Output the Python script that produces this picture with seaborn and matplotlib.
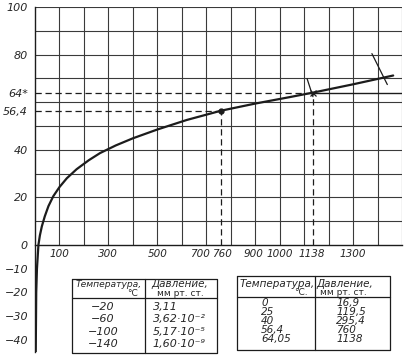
import numpy as np
import matplotlib
matplotlib.use("Agg")
import matplotlib.pyplot as plt
import matplotlib.transforms as mtransforms
import seaborn as sns

# curve: pressure (mm Hg) vs temperature (C)
curve_p = [3, 5, 8, 14, 20, 28, 40, 55, 75, 100, 130, 170, 220, 266, 330, 400, 500, 620, 760, 900, 1040, 1138, 1300, 1464]
curve_t = [-45, -20, -10, 0, 4, 7.8, 12, 16.3, 20.5, 24.3, 28.0, 31.8, 35.6, 38.6, 41.8, 44.8, 48.5, 52.5, 56.4, 59.4, 62.1, 64.05, 67.5, 71.2]

boil_p, boil_t = 760, 56.4
high_p, high_t = 1138, 64.05

xtick_vals = [100, 300, 500, 700, 760, 900, 1000, 1138, 1300]
ytick_vals = [-40, -30, -20, -10, 0, 20, 40, 56.4, 64.05, 80, 100]
ytick_labels = ["−40", "−30", "−20", "−10", "0", "20", "40", "56,4", "64*", "80", "100"]

# tables
low_temp = ["−20", "−60", "−100", "−140"]
low_press = ["3,11", "3,62·10⁻²", "5,17·10⁻⁵", "1,60·10⁻⁹"]
high_temp = ["0", "25", "40", "56,4", "64,05"]
high_press = ["16,9", "119,5", "295,4", "760", "1138"]

sns.set_style("white")
plt.rcParams["font.family"] = ["Liberation Sans Narrow", "DejaVu Sans"]

fig = plt.figure(figsize=(4.07, 3.62), dpi=100)
ax = fig.add_axes([35 / 407, 9.6 / 362, 367 / 407, 345.4 / 362])
ax.set_xlim(0, 1500)
ax.set_ylim(-45.2, 100)

ink = "#1c1c1c"
# grid only in the positive part
ax.vlines(np.arange(100, 1501, 100), 0, 100, color="#3a3a3a", lw=0.8, zorder=1)
ax.hlines(np.arange(10, 101, 10), 0, 1500, color="#3a3a3a", lw=0.8, zorder=1)

sns.lineplot(x=curve_p, y=curve_t, ax=ax, color=ink, lw=1.6, zorder=4)

dash = dict(color=ink, lw=0.9, ls=(0, (5, 3)), zorder=3)
ax.plot([0, boil_p], [boil_t, boil_t], **dash)
ax.plot([boil_p, boil_p], [0, boil_t], **dash)
ax.plot([0, high_p], [high_t, high_t], **dash)
ax.plot([high_p, high_p], [0, high_t], **dash)
ax.plot([high_p, 1500], [high_t, high_t], color=ink, lw=1.0, zorder=3)
ax.plot(boil_p, boil_t, "o", color=ink, ms=3.5, zorder=5)
ax.plot(high_p, high_t, "x", color=ink, ms=4, mew=0.9, zorder=5)
# construction strokes
ax.plot([1112, 1136], [69.9, 62.3], color=ink, lw=0.9)
ax.plot([1377, 1440], [80.4, 67.4], color=ink, lw=0.9)

for s in ["top", "right"]:
    ax.spines[s].set_visible(False)
ax.spines["bottom"].set_position(("data", 0))
ax.spines["left"].set_color(ink)
ax.spines["bottom"].set_color(ink)
ax.spines["left"].set_linewidth(1.0)
ax.spines["bottom"].set_linewidth(1.0)

ax.set_xticks(xtick_vals)
ax.set_xticklabels([str(v) for v in xtick_vals], fontsize=7.5, style="italic")
ax.set_yticks(ytick_vals)
ax.set_yticklabels(ytick_labels, fontsize=8, style="italic")
ax.tick_params(axis="x", length=0, pad=3)
ax.tick_params(axis="y", length=4, direction="inout", pad=3, color=ink)

# nudge crowded x labels like in the drawing
shifts = {700: -6, 760: 1, 900: -2, 1138: -2}
for lab, v in zip(ax.get_xticklabels(), xtick_vals):
    if v in shifts:
        lab.set_transform(lab.get_transform() +
                          mtransforms.ScaledTranslation(shifts[v] / 100, 0, fig.dpi_scale_trans))

# tables (drawn in data coordinates below the axis)
line = dict(color=ink, lw=0.9, clip_on=False)
x0, xm, x1 = 151, 450, 744
y0, yh, y1 = -14.3, -22.3, -45.6
ax.plot([x0, x1, x1, x0, x0], [y0, y0, y1, y1, y0], **line)
ax.plot([x0, x1], [yh, yh], **line)
ax.plot([xm, xm], [y0, y1], **line)
ax.text(302, -16.6, "Температура,", fontsize=6.6, style="italic", ha="center", va="center")
ax.text(400, -20.3, "°C", fontsize=6.5, ha="center", va="center")
ax.text(593, -16.6, "Давление,", fontsize=7.5, style="italic", ha="center", va="center")
ax.text(593, -20.3, "мм рт. ст.", fontsize=6.5, ha="center", va="center")
for i, (t, p) in enumerate(zip(low_temp, low_press)):
    yy = -26.1 - i * 5.2
    ax.text(278, yy, t, fontsize=8, style="italic", ha="center", va="center")
    ax.text(482, yy, p, fontsize=8, style="italic", ha="left", va="center")

x0, xm, x1 = 826, 1144, 1451
y0, yh, y1 = -13.1, -21.9, -44.2
ax.plot([x0, x1, x1, x0, x0], [y0, y0, y1, y1, y0], **line)
ax.plot([x0, x1], [yh, yh], **line)
ax.plot([xm, xm], [y0, y1], **line)
ax.text(838, -16.4, "Температура,", fontsize=7.5, style="italic", ha="left", va="center")
ax.text(1087, -20.2, "°C.", fontsize=6.5, ha="center", va="center")
ax.text(1267, -16.4, "Давление,", fontsize=7.5, style="italic", ha="center", va="center")
ax.text(1262, -20.2, "мм рт. ст.", fontsize=6.5, ha="center", va="center")
for i, (t, p) in enumerate(zip(high_temp, high_press)):
    yy = -24.4 - i * 3.75
    ax.text(924, yy, t, fontsize=7.5, style="italic", ha="left", va="center")
    ax.text(1232, yy, p, fontsize=7.5, style="italic", ha="left", va="center")

fig.savefig("out.png", dpi=100)
